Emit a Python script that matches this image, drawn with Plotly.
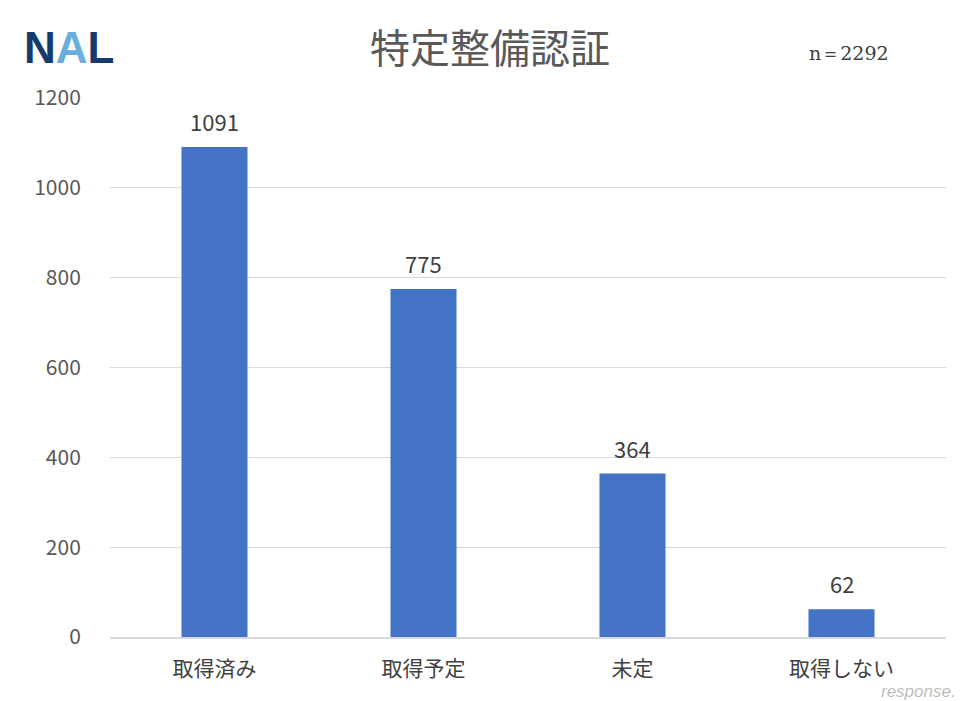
import plotly.graph_objects as go

categories = ["取得済み", "取得予定", "未定", "取得しない"]
values = [1091, 775, 364, 62]
y_ticks = [0, 200, 400, 600, 800, 1000, 1200]
title_text = "特定整備認証"
n_text = "n＝2292"

font_jp = "Noto Sans CJK JP"

W, H = 968, 701
L, R, T, B = 110, 22, 98, 64
PW, PH = W - L - R, H - T - B


def px(x, y):
    return (x - L) / PW, (H - B - y) / PH


fig = go.Figure(go.Bar(
    x=categories, y=values,
    marker=dict(color="#4472c4", line=dict(width=0)),
    width=0.316,
    cliponaxis=False,
))

ann = []
for c, v in zip(categories, values):
    ann.append(dict(x=c, y=v, xref="x", yref="y", text=str(v), showarrow=False,
                    yanchor="bottom", yshift=8,
                    font=dict(size=22, color="#404040", family=font_jp)))


def pann(text, x, y, font, xanchor="center"):
    xx, yy = px(x, y)
    return dict(text=text, x=xx, y=yy, xref="paper", yref="paper", showarrow=False,
                xanchor=xanchor, yanchor="middle", font=font)


ann.append(pann(title_text, 490, 46, dict(size=40, color="#595959", family=font_jp)))
ann.append(pann(n_text, 849, 53, dict(size=19, color="#404040", family="DejaVu Serif")))
ann.append(pann("<b><span style='color:#173a6e'>N</span><span style='color:#6aaee0'>A</span>"
                "<span style='color:#173a6e'>L</span></b>", 69, 47,
                dict(size=44, family="Liberation Sans")))
ann.append(pann("<i>response.</i>", 918, 692,
                dict(size=17, color="rgba(120,120,120,0.5)", family="Liberation Sans")))

fig.update_layout(
    width=W, height=H,
    margin=dict(l=L, r=R, t=T, b=B, autoexpand=False),
    paper_bgcolor="white", plot_bgcolor="white",
    showlegend=False,
    bargap=0.684,
    xaxis=dict(
        tickfont=dict(size=21, color="#404040", family=font_jp),
        showline=True, linecolor="#d9d9d9", linewidth=1.5,
        ticks="outside", ticklen=12, tickcolor="rgba(0,0,0,0)",
        automargin=False,
    ),
    yaxis=dict(
        range=[0, 1200], tickvals=y_ticks,
        tickfont=dict(size=21, color="#595959", family=font_jp),
        showgrid=True, gridcolor="#d9d9d9", gridwidth=1,
        zeroline=False, ticks="outside", ticklen=24, tickcolor="rgba(0,0,0,0)",
        automargin=False,
    ),
    annotations=ann,
)

fig.write_html("out.html", config={"displayModeBar": False},
               post_script="document.body.style.margin='0';")
